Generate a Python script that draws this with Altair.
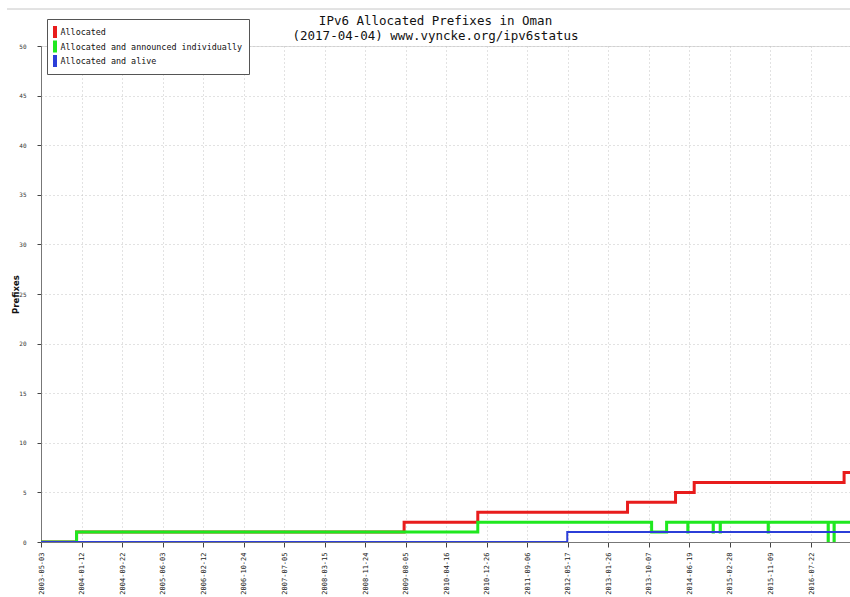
import altair as alt
import pandas as pd

# Step-change points per series: (date of change, number of prefixes)
allocated_dates = ["2003-05-03", "2003-12-12", "2009-07-27", "2010-11-01", "2013-05-28",
                   "2014-03-25", "2014-07-20", "2017-02-14", "2017-04-04"]
allocated_counts = [0, 1, 2, 3, 4, 5, 6, 7, 7]

announced_dates = ["2003-05-03", "2003-12-12", "2010-11-01", "2013-10-26", "2014-01-28",
                   "2014-06-10", "2014-06-11", "2014-11-16", "2014-11-17", "2014-12-30",
                   "2014-12-31", "2015-10-27", "2015-10-28", "2016-11-06", "2016-11-07",
                   "2016-12-13", "2016-12-14", "2017-04-04"]
announced_counts = [0, 1, 2, 1, 2, 1, 2, 1, 2, 1, 2, 1, 2, 0, 2, 0, 2, 2]

alive_dates = ["2003-05-03", "2012-05-15", "2017-04-04"]
alive_counts = [0, 1, 1]

series_names = ["Allocated", "Allocated and announced individually", "Allocated and alive"]
series_colors = ["#e81c1c", "#1fe81f", "#2b3ed8"]

tick_dates = ["2003-05-03", "2004-01-12", "2004-09-22", "2005-06-03", "2006-02-12",
              "2006-10-24", "2007-07-05", "2008-03-15", "2008-11-24", "2009-08-05",
              "2010-04-16", "2010-12-26", "2011-09-06", "2012-05-17", "2013-01-26",
              "2013-10-07", "2014-06-19", "2015-02-28", "2015-11-09", "2016-07-22"]
y_ticks = [0, 5, 10, 15, 20, 25, 30, 35, 40, 45, 50]

x_start = "2003-05-03"
x_end = "2017-03-23"

title_lines = ["IPv6 Allocated Prefixes in Oman", "(2017-04-04) www.vyncke.org/ipv6status"]


def utc_dt(s):
    y, m, d = (int(p) for p in s.split("-"))
    return alt.DateTime(year=y, month=m, date=d, utc=True)


frames = []
for name, dates, counts in [(series_names[0], allocated_dates, allocated_counts),
                            (series_names[1], announced_dates, announced_counts),
                            (series_names[2], alive_dates, alive_counts)]:
    frames.append(pd.DataFrame({"date": dates, "count": counts, "series": name}))
df = pd.concat(frames, ignore_index=True)

mono = "DejaVu Sans Mono"

x_enc = alt.X(
    "date:T",
    scale=alt.Scale(type="utc", domain=[utc_dt(x_start), utc_dt(x_end)]),
    axis=alt.Axis(
        values=[utc_dt(t) for t in tick_dates],
        format="%Y-%m-%d",
        title=None,
        labelAngle=270,
        labelAlign="right",
        labelBaseline="middle",
        labelFont=mono,
        labelFontSize=7,
        labelColor="#222",
        labelPadding=5,
        labelOverlap=False,
        tickSize=5,
        tickColor="#444",
        domainColor="#777",
        grid=True,
        gridColor="#c4c4c4",
        gridDash=[1, 3],
    ),
)

y_enc = alt.Y(
    "count:Q",
    scale=alt.Scale(domain=[0, 50], nice=False),
    axis=alt.Axis(
        values=y_ticks,
        title="Prefixes",
        titleFont="DejaVu Sans",
        titleFontSize=8.5,
        titleFontWeight="bold",
        titleColor="#111",
        titleAngle=270,
        titleX=-26,
        titleY=248,
        titleAlign="center",
        titleBaseline="middle",
        labelFont=mono,
        labelFontSize=6,
        labelColor="#333",
        labelPadding=11,
        tickSize=4,
        tickColor="#444",
        domainColor="#777",
        grid=True,
        gridColor="#c4c4c4",
        gridDash=[1, 3],
    ),
)

color_enc = alt.Color(
    "series:N",
    scale=alt.Scale(domain=series_names, range=series_colors),
    legend=alt.Legend(
        title=None,
        orient="none",
        legendX=6,
        legendY=-27,
        direction="vertical",
        padding=6,
        fillColor="white",
        strokeColor="#555",
        symbolType="M0,-1.714L0,1.714",
        symbolSize=49,
        symbolStrokeWidth=5,
        symbolOffset=-4.5,
        labelOffset=0,
        labelFont=mono,
        labelFontSize=8.4,
        labelColor="#111",
        labelLimit=400,
        clipHeight=14,
        rowPadding=0.5,
    ),
)

base = alt.Chart(df).encode(x=x_enc, y=y_enc, color=color_enc)

layers = []
for name, width in zip(series_names, [3, 3, 2]):
    layers.append(
        base.transform_filter(alt.datum.series == name)
        .mark_line(interpolate="step-after", strokeWidth=width, clip=True)
    )

top_rule = alt.Chart(pd.DataFrame({"k": [0]})).mark_rule(color="#c6c6c6", strokeWidth=1).encode(
    x=alt.value(-34), x2=alt.value(809), y=alt.value(-37)
)

chart = (
    alt.layer(*layers, top_rule)
    .properties(
        width=809,
        height=496,
        autosize=alt.AutoSizeParams(type="none"),
        padding={"left": 41, "top": 46, "right": 0, "bottom": 55},
        title=alt.TitleParams(
            text=title_lines,
            font=mono,
            fontSize=12.5,
            fontWeight="normal",
            color="#111",
            anchor="middle",
            dx=-10,
            dy=38,
            offset=4,
            lineHeight=15,
        ),
    )
    .configure_view(stroke=None)
    .configure(background="white")
)

chart.save("out.html", embed_options={"renderer": "svg", "actions": False})
